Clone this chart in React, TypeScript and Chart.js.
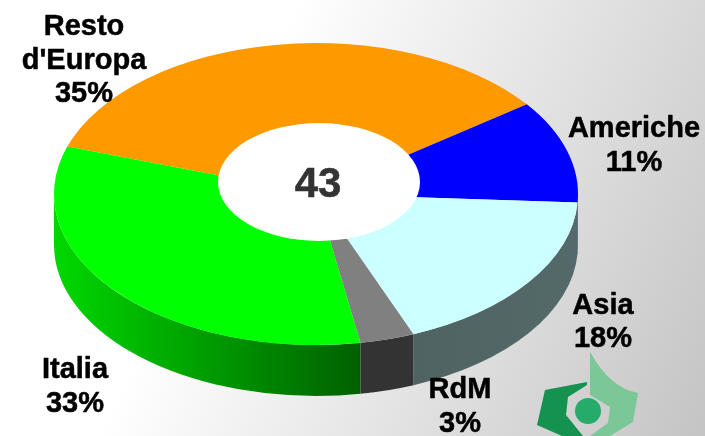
import React, { useEffect, useRef } from "react";
import { Chart, registerables } from "chart.js";

Chart.register(...registerables);

const categories = ["Resto d'Europa", "Americhe", "Asia", "RdM", "Italia"];
const values = [34.8, 11, 18.05, 3.35, 32.8];
const centerValue = "43";
const sliceColors = ["#ff9900", "#0000ff", "#ccffff", "#808080", "#00ff00"];
const sideColors = [
  ["#995c00", "#995c00"],
  ["#000066", "#000066"],
  ["#546969", "#4f6363"],
  ["#333333", "#333333"],
  ["#006000", "#00d800"],
];
const labelLines = [["Resto", "d'Europa"], ["Americhe"], ["Asia"], ["RdM"], ["Italia"]];
const labelAnchors = [
  [84, 35],
  [634, 137],
  [603, 313.5],
  [460, 398],
  [75, 378],
];

const PIE = { cx: 316, cy: 194, rx: 262, ry: 151, depth: 51 };
const HOLE = { cx: 319, cy: 182, rx: 101, ry: 59 };
const LINE = 33.5;

const piePlugin = {
  id: "pie3d",
  beforeDatasetsDraw(chart: any) {
    const { ctx } = chart;
    const arcs = chart.getDatasetMeta(0).data;
    const first = arcs[0];
    const r = first.outerRadius;
    const sx = PIE.rx / r;
    const sy = PIE.ry / r;
    const two = Math.PI * 2;
    arcs.forEach((arc: any, i: number) => {
      const lo = Math.max(arc.startAngle, two);
      const hi = Math.min(arc.endAngle, two + Math.PI);
      if (hi <= lo) return;
      ctx.save();
      const xa = PIE.cx + PIE.rx * Math.cos(lo);
      const xb = PIE.cx + PIE.rx * Math.cos(hi);
      const g = ctx.createLinearGradient(xa, 0, xb, 0);
      g.addColorStop(0, sideColors[i][0]);
      g.addColorStop(1, sideColors[i][1]);
      ctx.fillStyle = g;
      ctx.beginPath();
      ctx.ellipse(PIE.cx, PIE.cy, PIE.rx, PIE.ry, 0, lo, hi);
      ctx.ellipse(PIE.cx, PIE.cy + PIE.depth, PIE.rx, PIE.ry, 0, hi, lo, true);
      ctx.closePath();
      ctx.fill();
      ctx.restore();
    });
    ctx.save();
    ctx.translate(PIE.cx, PIE.cy);
    ctx.scale(sx, sy);
    ctx.translate(-first.x, -first.y);
  },
  afterDatasetsDraw(chart: any) {
    const { ctx } = chart;
    ctx.restore();
    ctx.save();
    ctx.fillStyle = "#ffffff";
    ctx.beginPath();
    ctx.ellipse(HOLE.cx, HOLE.cy, HOLE.rx, HOLE.ry, 0, 0, Math.PI * 2);
    ctx.fill();
    ctx.textAlign = "center";
    ctx.textBaseline = "alphabetic";
    ctx.lineJoin = "round";
    ctx.lineWidth = 0.5;
    ctx.fillStyle = "#333333";
    ctx.strokeStyle = "#333333";
    ctx.font = "bold 42px 'Liberation Sans'";
    ctx.fillText(centerValue, 318, 197);
    ctx.strokeText(centerValue, 318, 197);
    ctx.fillStyle = "#000000";
    ctx.strokeStyle = "#000000";
    ctx.font = "bold 29px 'Liberation Sans'";
    labelLines.forEach((lines, i) => {
      const [x, y] = labelAnchors[i];
      const all = [...lines, Math.round(values[i]) + "%"];
      all.forEach((t, k) => {
        ctx.fillText(t, x, y + k * LINE);
        ctx.strokeText(t, x, y + k * LINE);
      });
    });
    ctx.restore();
  },
};

export default function App() {
  const ref = useRef<HTMLCanvasElement>(null);
  useEffect(() => {
    document.body.style.margin = "0";
    const chart = new Chart(ref.current as HTMLCanvasElement, {
      type: "pie",
      data: {
        labels: categories,
        datasets: [
          {
            data: values,
            backgroundColor: sliceColors,
            borderWidth: 0,
            clip: false,
          } as any,
        ],
      },
      options: {
        animation: false,
        responsive: false,
        rotation: 288.3,
        layout: { padding: 0 },
        plugins: { legend: { display: false }, tooltip: { enabled: false } },
      },
      plugins: [piePlugin],
    });
    return () => chart.destroy();
  }, []);
  return (
    <div
      style={{
        position: "relative",
        width: 705,
        height: 436,
        overflow: "hidden",
        background: "linear-gradient(114.6deg, #ffffff 0%, #ffffff 33%, #c4c4c4 100%)",
      }}
    >
      <svg width={705} height={436} style={{ position: "absolute", left: 0, top: 0, filter: "blur(0.6px)" }}>
        <path d="M587 382 L545 390 L537 425 L562 436 L583 436 L566 415 L568 397 L587 385 Z" fill="#15924f" />
        <path d="M590 352 Q610 388 638 393 L633 422 L610 436 L590 436 L608 423 L610 407 L590 395 Z" fill="#7cc797" />
        <circle cx={588} cy={411} r={13} fill="#25ab6a" />
      </svg>
      <canvas ref={ref} width={705} height={436} style={{ position: "absolute", left: 0, top: 0 }} />
    </div>
  );
}
